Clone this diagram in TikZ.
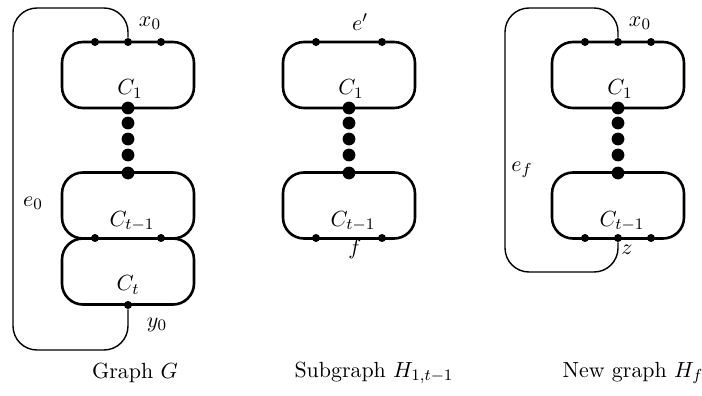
\documentclass[tikz,border=0pt,11pt]{standalone}
\usepackage{amsmath}
\usetikzlibrary{positioning}

\begin{document}
\begin{tikzpicture}[
    x=0.5pt, y=-0.5pt,
    cycbox/.style={draw, line width=1.3pt, rounded corners=10.5pt, minimum width=66pt, minimum height=33pt, inner sep=0pt},
    bigdot/.style={circle, fill, inner sep=0pt, minimum size=6.4pt},
    smalldot/.style={circle, fill, inner sep=0pt, minimum size=4pt},
    outer/.style={line width=0.7pt, rounded corners=12pt},
    lbl/.style={inner sep=1pt},
]
\useasboundingbox (0,0) rectangle (702,396);

% === PANEL 1: Graph G ===
\begin{scope}[shift={(128,0)}]
    % Ciclos
    \node[cycbox] (c1G) at (0,75) {};
    \node[cycbox] (ctmG) at (0,205.5) {};
    \node[cycbox] (ctG) at (0,271.5) {};
    \node[lbl] (c1Glbl) at (2,89) {$C_1$};
    \node[lbl] (ctmGlbl) at (4,221) {$C_{t-1}$};
    \node[lbl] (ctGlbl) at (0,285) {$C_t$};

    % Vertices
    \node[smalldot] (aG) at (-33,42) {};
    \node[smalldot] (x0G) at (0,42) {};
    \node[smalldot] (bG) at (33,42) {};
    \node[smalldot] (cG) at (-33,238) {};
    \node[smalldot] (dG) at (33,238) {};
    \node[smalldot] (y0G) at (0,305) {};

    % Cadena de puntos
    \node[bigdot] (topG) at (0,108) {};
    \foreach \y in {123,139,155} {
        \node[bigdot] at (0,\y) {};
    }
    \node[bigdot] (botG) at (0,173) {};

    % Arista e_0
    \draw[outer] (x0G) -- (0,8) -- (-115,8) -- (-115,350) -- (0,350) -- (y0G);
    \node[lbl] (x0Glbl) at (22,23) {$x_0$};
    \node[lbl] (y0Glbl) at (29,325) {$y_0$};
    \node[lbl] (e0lbl) at (-95,203) {$e_0$};

    \node (capG) at (7,373) {Graph $G$};
\end{scope}

% === PANEL 2: Subgraph H ===
\begin{scope}[shift={(349,0)}]
    \node[cycbox] (c1H) at (0,75) {};
    \node[cycbox] (ctmH) at (0,205.5) {};
    \node[lbl] (c1Hlbl) at (2,89) {$C_1$};
    \node[lbl] (ctmHlbl) at (4,221) {$C_{t-1}$};

    \node[smalldot] (aH) at (-33,42) {};
    \node[smalldot] (bH) at (33,42) {};
    \node[smalldot] (cH) at (-33,238) {};
    \node[smalldot] (dH) at (33,238) {};

    \node[bigdot] (topH) at (0,108) {};
    \foreach \y in {123,139,155} {
        \node[bigdot] at (0,\y) {};
    }
    \node[bigdot] (botH) at (0,173) {};

    \node[lbl] (eplbl) at (11,22) {$e'$};
    \node[lbl] (flbl) at (6,249) {$f$};

    \node (capH) at (25,373) {Subgraph $H_{1,t-1}$};
\end{scope}

% === PANEL 3: New graph H_f ===
\begin{scope}[shift={(618,0)}]
    \node[cycbox] (c1N) at (0,75) {};
    \node[cycbox] (ctmN) at (0,205.5) {};
    \node[lbl] (c1Nlbl) at (2,89) {$C_1$};
    \node[lbl] (ctmNlbl) at (4,221) {$C_{t-1}$};

    \node[smalldot] (aN) at (-33,42) {};
    \node[smalldot] (x0N) at (0,42) {};
    \node[smalldot] (bN) at (33,42) {};
    \node[smalldot] (cN) at (-33,238) {};
    \node[smalldot] (zN) at (0,238) {};
    \node[smalldot] (dN) at (33,238) {};

    \node[bigdot] (topN) at (0,108) {};
    \foreach \y in {123,139,155} {
        \node[bigdot] at (0,\y) {};
    }
    \node[bigdot] (botN) at (0,173) {};

    % Arista e_f
    \draw[outer] (x0N) -- (0,8) -- (-113,8) -- (-113,272) -- (0,272) -- (zN);
    \node[lbl] (x0Nlbl) at (22,23) {$x_0$};
    \node[lbl] (zlbl) at (9,250) {$z$};
    \node[lbl] (eflbl) at (-96,170) {$e_f$};

    \node (capN) at (15,373) {New graph $H_f$};
\end{scope}

\end{tikzpicture}
\end{document}
